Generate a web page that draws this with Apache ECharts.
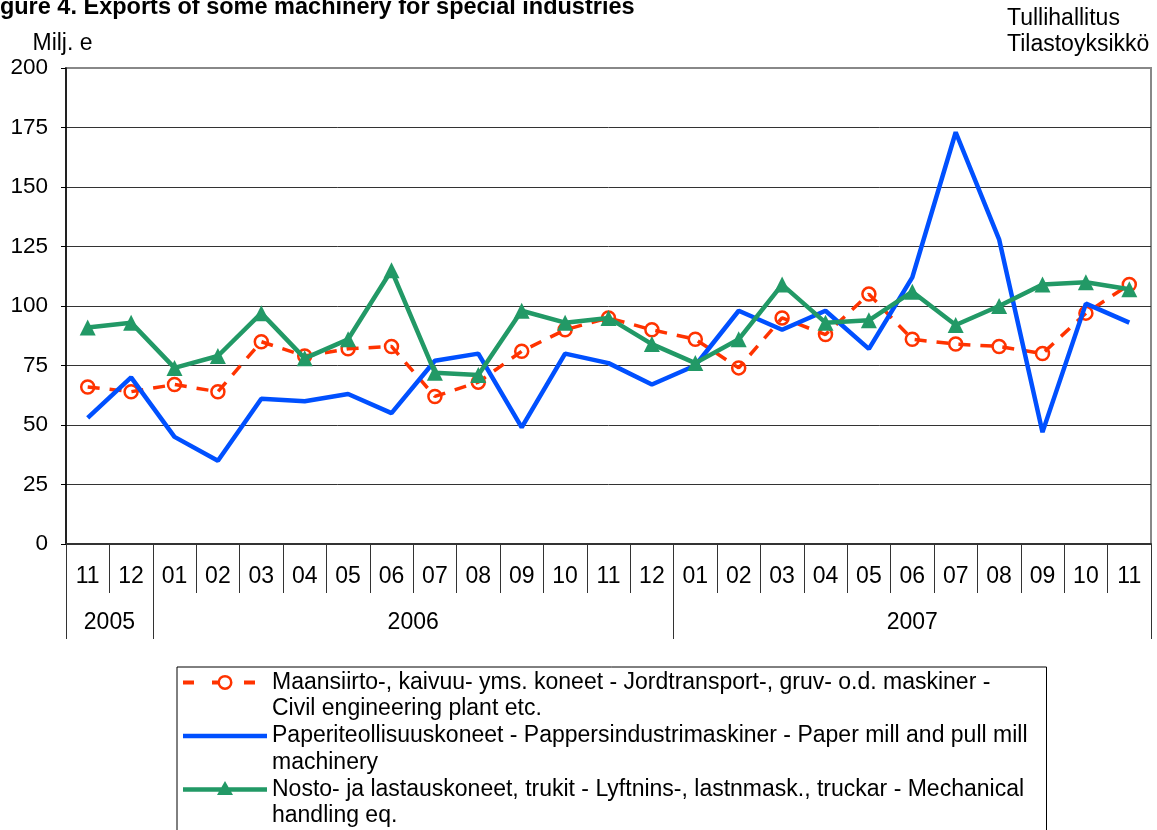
<!DOCTYPE html>
<html>
<head>
<meta charset="utf-8">
<script src="https://cdn.jsdelivr.net/npm/echarts@6/dist/echarts.min.js"></script>
<style>
  html, body { margin: 0; padding: 0; background: #ffffff; }
  #chart { width: 1157px; height: 830px; }
</style>
</head>
<body>
<div id="chart"></div>
<script>
// Monthly categories, Nov 2005 – Nov 2007
const months = ['11', '12', '01', '02', '03', '04', '05', '06', '07', '08', '09', '10', '11', '12',
                '01', '02', '03', '04', '05', '06', '07', '08', '09', '10', '11'];
const years = ['2005', '2006', '2007'];
const yearSpans = [2, 12, 11];          // number of months shown for each year

// Exports, million euro
const civilEngineering = [66, 64, 67, 64, 85, 79, 82, 83, 62, 68, 81, 90, 95, 90,
                          86, 74, 95, 88, 105, 86, 84, 83, 80, 97, 109];
const paperMill = [53, 70, 45, 35, 61, 60, 63, 55, 77, 80, 49, 80, 76, 67,
                   75, 98, 90, 98, 82, 112, 173, 128, 47, 101, 93];
const handlingEq = [91, 93, 74, 79, 97, 78, 86, 115, 72, 71, 98, 93, 95, 84,
                    76, 86, 109, 93, 94, 106, 92, 100, 109, 110, 107];

const seriesNames = [
  'Maansiirto-, kaivuu- yms. koneet - Jordtransport-, gruv- o.d. maskiner -\nCivil engineering plant etc.',
  'Paperiteollisuuskoneet - Pappersindustrimaskiner - Paper mill and pull mill\nmachinery',
  'Nosto- ja lastauskoneet, trukit - Lyftnins-, lastnmask., truckar - Mechanical\nhandling eq.'
];

const COLORS = { civil: '#FF3300', paper: '#0050FF', handling: '#229966' };

// Year group boundaries and label centres on a 0..N month scale
const yearBounds = [0];
yearSpans.forEach(s => yearBounds.push(yearBounds[yearBounds.length - 1] + s));
const yearCenters = yearSpans.map((s, i) => yearBounds[i] + s / 2);

const FONT = '"Liberation Sans", Arial, sans-serif';
const FS = 23;
const LINE_H = 26.75;

// Legend keys: the key is drawn on the first text line of a two-line entry.
// Each path spans the full key box (corner specks fix its extent) so no rescaling happens.
const KEY_W = 84, KEY_H = 2 * LINE_H, KEY_Y = LINE_H / 2;
function frame() {
  return `M0,0 L0.01,0 L0.01,0.01 Z M${KEY_W - 0.01},${KEY_H - 0.01} L${KEY_W},${KEY_H - 0.01} L${KEY_W},${KEY_H} Z `;
}
function bar(x0, x1, t) {
  return `M${x0},${KEY_Y - t / 2} L${x1},${KEY_Y - t / 2} L${x1},${KEY_Y + t / 2} L${x0},${KEY_Y + t / 2} Z `;
}
function ring(cx, r0, r1) {
  const y = KEY_Y;
  return `M${cx + r0},${y} A${r0},${r0} 0 1,1 ${cx - r0},${y} A${r0},${r0} 0 1,1 ${cx + r0},${y} Z ` +
         `M${cx + r1},${y} A${r1},${r1} 0 1,0 ${cx - r1},${y} A${r1},${r1} 0 1,0 ${cx + r1},${y} Z `;
}
function tri(cx, w, h) {
  const y = KEY_Y;
  return `M${cx},${y - h * 0.6} L${cx + w / 2},${y + h * 0.4} L${cx - w / 2},${y + h * 0.4} Z `;
}
const keyCivil = 'path://' + frame() + bar(0, 11, 4) + bar(29, 35, 4) + ring(42, 7.5, 5) + bar(61, 72, 4);
const keyPaper = 'path://' + frame() + bar(0, KEY_W, 4.5);
const keyHandling = 'path://' + frame() + bar(0, KEY_W, 4.5) + tri(42, 16, 14);

const chart = echarts.init(document.getElementById('chart'), null, { renderer: 'canvas' });

chart.setOption({
  animation: false,
  backgroundColor: '#ffffff',
  textStyle: { fontFamily: FONT },
  title: [
    {
      text: 'Figure 4. Exports of some machinery for special industries',
      left: -21, top: -4, padding: 0,
      textStyle: { fontFamily: FONT, fontSize: 23.5, fontWeight: 'bold', color: '#000' }
    },
    {
      text: 'Tullihallitus\nTilastoyksikkö',
      left: 1007, top: 6, padding: 0,
      textStyle: { fontFamily: FONT, fontSize: FS, fontWeight: 'normal', color: '#000', lineHeight: 26 }
    }
  ],
  grid: {
    left: 66, right: 6, top: 68, bottom: 286,
    show: true, borderColor: '#888888', borderWidth: 2, backgroundColor: 'transparent'
  },
  xAxis: [
    {
      type: 'category',
      data: months,
      boundaryGap: true,
      axisLine: { lineStyle: { color: '#333', width: 2 } },
      axisTick: { show: true, interval: 0, length: 49, lineStyle: { color: '#333', width: 1 } },
      axisLabel: { interval: 0, margin: 21, fontSize: FS, color: '#000', fontFamily: FONT },
      splitLine: { show: false }
    },
    {
      type: 'value',
      min: 0, max: months.length,
      position: 'bottom',
      axisLine: { show: false },
      splitLine: { show: false },
      axisTick: { show: true, customValues: yearBounds, length: 95, lineStyle: { color: '#333', width: 1 } },
      axisLabel: {
        customValues: yearCenters, margin: 67, fontSize: FS, color: '#000', fontFamily: FONT,
        formatter: v => years[yearCenters.indexOf(v)] || ''
      }
    }
  ],
  yAxis: {
    type: 'value',
    min: 0, max: 200, interval: 25,
    name: 'Milj. e',
    nameLocation: 'end',
    nameGap: 13,
    nameTextStyle: { fontSize: FS, color: '#000', fontFamily: FONT, padding: [0, 7, 0, 0] },
    axisLine: { show: true, lineStyle: { color: '#000', width: 1.5 } },
    axisTick: { show: true, length: 5, lineStyle: { color: '#000' } },
    axisLabel: { fontSize: 22.5, color: '#000', margin: 18, fontFamily: FONT },
    splitLine: { show: true, showMinLine: false, showMaxLine: false, lineStyle: { color: '#333', width: 1 } }
  },
  legend: {
    orient: 'vertical',
    left: 177, top: 667,
    height: 300,
    padding: [2, 19, 4, 6],
    itemGap: 0,
    itemWidth: KEY_W, itemHeight: KEY_H,
    borderColor: '#000', borderWidth: 1,
    textStyle: { fontSize: FS, color: '#000', fontFamily: FONT, lineHeight: LINE_H },
    data: [
      { name: seriesNames[0], icon: keyCivil, itemStyle: { color: COLORS.civil, borderWidth: 0 } },
      { name: seriesNames[1], icon: keyPaper, itemStyle: { color: COLORS.paper, borderWidth: 0 } },
      { name: seriesNames[2], icon: keyHandling, itemStyle: { color: COLORS.handling, borderWidth: 0 } }
    ]
  },
  series: [
    {
      name: seriesNames[0],
      type: 'line',
      data: civilEngineering,
      symbol: 'circle', symbolSize: 13,
      lineStyle: { color: COLORS.civil, width: 3.5, type: [12, 10] },
      itemStyle: { color: 'transparent', borderColor: COLORS.civil, borderWidth: 2.5 },
      z: 2
    },
    {
      name: seriesNames[1],
      type: 'line',
      data: paperMill,
      symbol: 'none',
      lineStyle: { color: COLORS.paper, width: 4.5 },
      itemStyle: { color: COLORS.paper },
      z: 3
    },
    {
      name: seriesNames[2],
      type: 'line',
      data: handlingEq,
      symbol: 'triangle', symbolSize: 16,
      lineStyle: { color: COLORS.handling, width: 4.5 },
      itemStyle: { color: COLORS.handling },
      z: 4
    }
  ]
});
</script>
</body>
</html>
